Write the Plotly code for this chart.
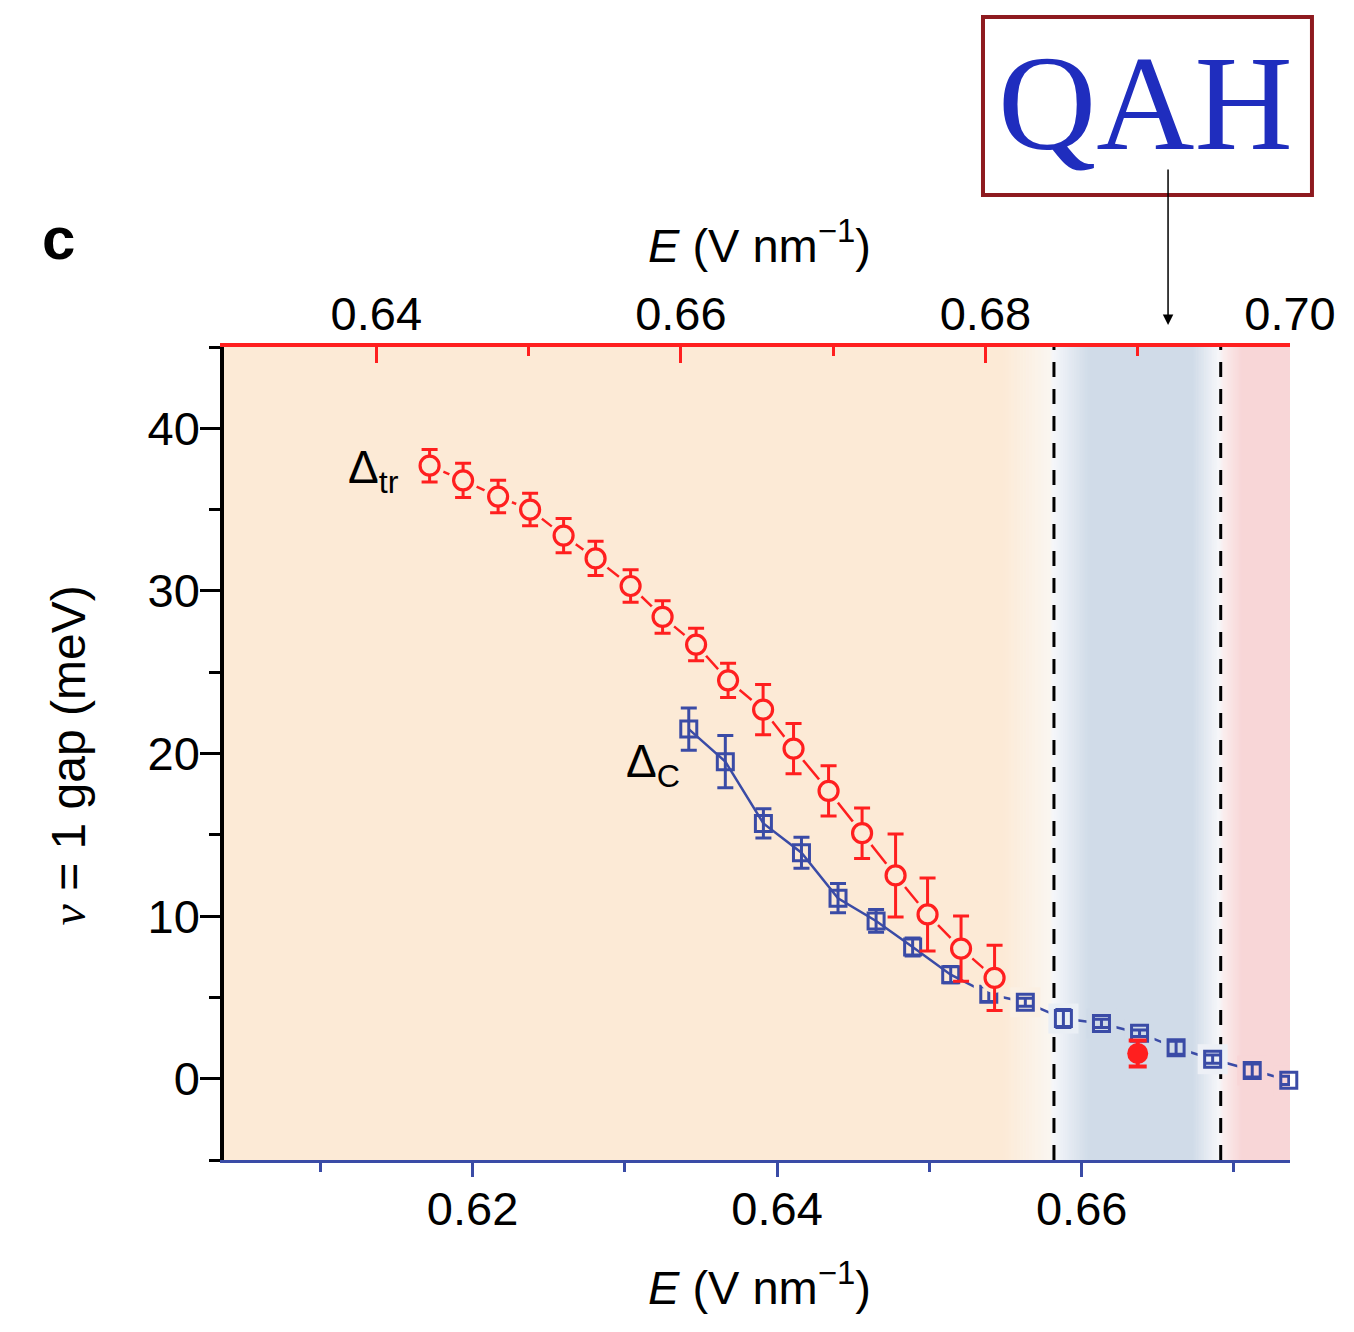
import plotly.graph_objects as go

# ---- data -------------------------------------------------------------
# Transport gap (Delta_tr) versus displacement field, red top axis
e_tr = [0.6435, 0.6457, 0.6480, 0.6501, 0.6523, 0.6544, 0.6567, 0.6588, 0.6610,
        0.6631, 0.6654, 0.6674, 0.6697, 0.6719, 0.6741, 0.6762, 0.6784, 0.6806]
gap_tr = [37.7, 36.8, 35.8, 35.0, 33.4, 32.0, 30.3, 28.4, 26.7,
          24.5, 22.7, 20.3, 17.7, 15.1, 12.5, 10.1, 8.0, 6.2]
err_tr = [1.0, 1.05, 1.0, 1.0, 1.05, 1.05, 1.0, 1.0, 1.0,
          1.05, 1.55, 1.55, 1.55, 1.55, 2.55, 2.25, 2.0, 2.0]

# Capacitance gap (Delta_C) versus displacement field, blue bottom axis
e_c = [0.6342, 0.6366, 0.6391, 0.6416, 0.6440, 0.6465, 0.6489, 0.6514, 0.6539,
       0.6563, 0.6588, 0.6613, 0.6638, 0.6662, 0.6686, 0.6712, 0.6736]
gap_c = [21.5, 19.5, 15.7, 13.9, 11.1, 9.7, 8.1, 6.4, 5.2,
         4.7, 3.7, 3.4, 2.8, 1.9, 1.2, 0.5, -0.1]
err_c = [1.3, 1.6, 0.9, 0.95, 0.9, 0.7, 0.55, 0.5, 0.45,
         0.25, 0.55, 0.25, 0.2, 0.4, 0.25, 0.4, 0.25]

# Transport gap inside the QAH window (top axis)
e_qah = [0.690]
gap_qah = [1.55]
err_qah = [0.8]

# Axis ranges and ticks
x_bot_range = [0.60368, 0.67368]
x_top_range = [0.630, 0.700]
y_range = [-5, 45]
top_offset = x_top_range[0] - x_bot_range[0]   # top-axis value minus bottom-axis value

# Phase boundaries (bottom-axis field)
qah_lo, qah_hi = 0.65818, 0.66913

# ---- styling ---------------------------------------------------------
RED = "#FF1F1F"
BLUE = "#3A4BA6"
FONT = "Liberation Sans, Arial, sans-serif"
SERIF = "Liberation Serif, Times New Roman, serif"

ORANGE = (252, 234, 214)
SKY = (208, 219, 232)
PINK = (248, 214, 215)
bg_stops = [
    (0.6000, ORANGE),
    (0.6548, ORANGE),
    (0.6579, (250, 246, 240)),
    (qah_lo, (244, 246, 250)),
    (0.6605, SKY),
    (0.6673, SKY),
    (0.6690, (246, 247, 250)),
    (0.66935, (250, 236, 236)),
    (0.6705, PINK),
    (0.6800, PINK),
]


def bg_rgb(x):
    if x <= bg_stops[0][0]:
        return bg_stops[0][1]
    for (xa, ca), (xb, cb) in zip(bg_stops[:-1], bg_stops[1:]):
        if xa <= x <= xb:
            t = (x - xa) / (xb - xa) if xb > xa else 0.0
            return tuple(ca[k] + (cb[k] - ca[k]) * t for k in range(3))
    return bg_stops[-1][1]


def css(c):
    return "rgb(%d,%d,%d)" % tuple(round(v) for v in c)


# Background bands, graded strips in the transition zones
shapes = []
for (xa, ca), (xb, cb) in zip(bg_stops[:-1], bg_stops[1:]):
    a, b = max(xa, x_bot_range[0]), min(xb, x_bot_range[1])
    if b <= a:
        continue
    n = 1 if ca == cb else 16
    w = (b - a) / n
    for i in range(n):
        s0 = a + w * i
        shapes.append(dict(type="rect", xref="x", yref="paper", layer="below",
                           x0=s0, x1=min(s0 + w + 0.00004, x_bot_range[1]), y0=0, y1=1,
                           fillcolor=css(bg_rgb(s0 + w / 2)), line=dict(width=0)))

for xv in (qah_lo, qah_hi):
    shapes.append(dict(type="line", xref="x", yref="paper", layer="below",
                       x0=xv, x1=xv, y0=0, y1=1,
                       line=dict(color="black", width=3, dash="15px,12px")))

# QAH label frame
shapes.append(dict(type="rect", xref="paper", yref="paper",
                   x0=0.7120, x1=1.0206, y0=1.1870, y1=1.4059,
                   fillcolor="white", line=dict(color="#8E1A1F", width=4)))

fig = go.Figure()

# connecting lines first, then background-coloured halos so lines stop short of symbols
fig.add_trace(go.Scatter(x=e_c, y=gap_c, mode="lines", xaxis="x", yaxis="y",
                         line=dict(color=BLUE, width=2.5), hoverinfo="skip", showlegend=False))
fig.add_trace(go.Scatter(x=e_tr, y=gap_tr, mode="lines", xaxis="x2", yaxis="y",
                         line=dict(color=RED, width=2.5), hoverinfo="skip", showlegend=False))

halo_start = 8
fig.add_trace(go.Scatter(x=e_c[halo_start:], y=gap_c[halo_start:], mode="markers",
                         xaxis="x", yaxis="y",
                         marker=dict(symbol="square", size=30,
                                     color=[css(bg_rgb(v)) for v in e_c[halo_start:]],
                                     line=dict(width=0)),
                         hoverinfo="skip", showlegend=False))
fig.add_trace(go.Scatter(x=e_tr, y=gap_tr, mode="markers", xaxis="x2", yaxis="y",
                         marker=dict(symbol="circle", size=30,
                                     color=[css(bg_rgb(v - top_offset)) for v in e_tr],
                                     line=dict(width=0)),
                         hoverinfo="skip", showlegend=False))

# symbols with error bars
fig.add_trace(go.Scatter(x=e_c, y=gap_c, mode="markers", xaxis="x", yaxis="y",
                         cliponaxis=False, name="Δc",
                         marker=dict(symbol="square-open", size=16,
                                     color=BLUE, line=dict(color=BLUE, width=3)),
                         error_y=dict(type="data", array=err_c, color=BLUE,
                                      thickness=3, width=8),
                         showlegend=False))
fig.add_trace(go.Scatter(x=e_tr, y=gap_tr, mode="markers", xaxis="x2", yaxis="y",
                         name="Δtr",
                         marker=dict(symbol="circle", size=19,
                                     color=[css(bg_rgb(v - top_offset)) for v in e_tr],
                                     line=dict(color=RED, width=3.2)),
                         error_y=dict(type="data", array=err_tr, color=RED,
                                      thickness=3, width=8),
                         showlegend=False))
fig.add_trace(go.Scatter(x=e_qah, y=gap_qah, mode="markers", xaxis="x2", yaxis="y",
                         marker=dict(symbol="circle", size=21, color=RED,
                                     line=dict(width=0)),
                         error_y=dict(type="data", array=err_qah, color=RED,
                                      thickness=4, width=9),
                         showlegend=False))

tick_font = dict(family=FONT, size=47, color="black")

annotations = [
    dict(text="c", xref="paper", yref="paper", x=-0.1557, y=1.1330,
         xanchor="center", yanchor="middle", showarrow=False,
         font=dict(family=FONT, size=60, color="black", weight="bold")),
    dict(text="<i>E</i> (V nm<sup>−1</sup>)", xref="paper", yref="paper",
         x=0.5028, y=1.1295, xanchor="center", yanchor="middle", showarrow=False,
         font=dict(family=FONT, size=47, color="black")),
    dict(text="<i>E</i> (V nm<sup>−1</sup>)", xref="paper", yref="paper",
         x=0.5028, y=-0.1525, xanchor="center", yanchor="middle", showarrow=False,
         font=dict(family=FONT, size=47, color="black")),
    dict(text="<span style='font-family:Liberation Serif'><i>ν</i></span> = 1 gap (meV)",
         xref="paper", yref="paper", x=-0.1460, y=0.498, textangle=-90,
         xanchor="center", yanchor="middle", showarrow=False,
         font=dict(family=FONT, size=48, color="black")),
    dict(text="Δ<sub>tr</sub>", xref="x", yref="y", x=0.61530, y=37.4,
         xanchor="right", yanchor="middle", showarrow=False,
         font=dict(family=FONT, size=46, color="black")),
    dict(text="Δ<sub>C</sub>", xref="x", yref="y", x=0.63375, y=19.3,
         xanchor="right", yanchor="middle", showarrow=False,
         font=dict(family=FONT, size=46, color="black")),
    dict(text="QAH", xref="paper", yref="paper", x=0.8649, y=1.300,
         xanchor="center", yanchor="middle", showarrow=False,
         font=dict(family=SERIF, size=136, color="#1F2DBE")),
    dict(text="", xref="paper", yref="paper", x=0.8856, y=1.0271,
         ax=0, ay=-157, showarrow=True, arrowhead=2, arrowsize=1.4,
         arrowwidth=1.5, arrowcolor="black"),
]

fig.update_layout(
    width=1354, height=1332,
    margin=dict(l=224, r=64, t=347, b=172),
    paper_bgcolor="white", plot_bgcolor="white",
    shapes=shapes, annotations=annotations,
    xaxis=dict(range=x_bot_range, tickmode="linear", tick0=0.62, dtick=0.02,
               tickformat=".2f", ticks="outside", ticklen=14, tickwidth=2.5,
               tickcolor=BLUE, showline=True, linecolor=BLUE, linewidth=3,
               showgrid=False, zeroline=False, tickfont=tick_font,
               ticklabelstandoff=-8,
               minor=dict(tickmode="linear", tick0=0.61, dtick=0.01, ticks="outside",
                          ticklen=9, tickwidth=2.5, tickcolor=BLUE)),
    xaxis2=dict(range=x_top_range, overlaying="x", side="top", anchor="y",
                tickmode="linear", tick0=0.64, dtick=0.02, tickformat=".2f",
                ticks="inside", ticklen=16, tickwidth=2.5, tickcolor=RED,
                showline=True, linecolor=RED, linewidth=3.5,
                showgrid=False, zeroline=False, tickfont=tick_font,
                ticklabelstandoff=-6,
                minor=dict(tickmode="linear", tick0=0.63, dtick=0.01, ticks="inside",
                           ticklen=9, tickwidth=2.5, tickcolor=RED)),
    yaxis=dict(range=y_range, tickmode="linear", tick0=0, dtick=10,
               ticks="outside", ticklen=20, tickwidth=2.5, tickcolor="black",
               showline=True, linecolor="black", linewidth=3.5,
               showgrid=False, zeroline=False, tickfont=tick_font,
               ticklabelstandoff=-9,
               minor=dict(tickmode="linear", tick0=0, dtick=5, ticks="outside",
                          ticklen=11, tickwidth=2.5, tickcolor="black")),
)

fig.write_html("out.html")
